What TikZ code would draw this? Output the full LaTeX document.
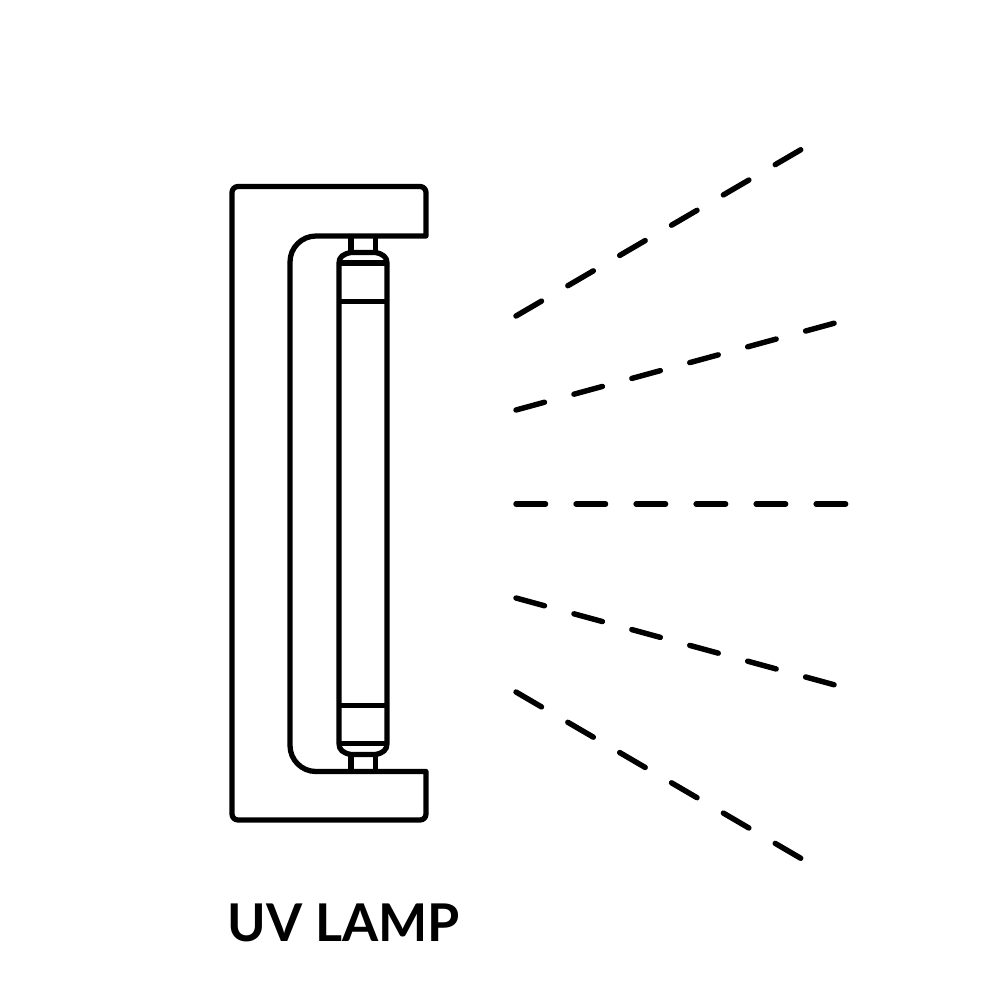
\documentclass[tikz,border=0pt]{standalone}
\usepackage{fontspec}
\setmainfont{Lato}
\usetikzlibrary{positioning}
\tikzset{
    lampline/.style={
        draw=black,
        line width=1.5pt,
        line join=round
    },
    ray/.style={
        draw=black,
        line width=1.55pt,
        line cap=round,
        dash pattern=on 0.295cm off 0.305cm
    },
    caption/.style={
        font=\fontsize{14.8pt}{18pt}\selectfont\bfseries,
        text=black,
        inner sep=0pt
    }
}
\begin{document}
\begin{tikzpicture}[x=0.01cm,y=-0.01cm]

\useasboundingbox (0,0) rectangle (1000,1000);

% housing
\draw[lampline] (426,236) -- (316,236) arc[start angle=90, end angle=180, x radius=26, y radius=-26]
    -- (290,745.5) arc[start angle=180, end angle=270, x radius=26, y radius=-26]
    -- (426,771.5) -- (426,814) arc[start angle=0, end angle=-90, x radius=6, y radius=-6]
    -- (238,820) arc[start angle=270, end angle=180, x radius=6, y radius=-6]
    -- (232,192.5) arc[start angle=180, end angle=90, x radius=6, y radius=-6]
    -- (420,186.5) arc[start angle=90, end angle=0, x radius=6, y radius=-6]
    -- cycle;

% tube
\draw[lampline] (339,263) .. controls (339,257) and (343,254) .. (351,252.5) -- (375.5,252.5)
    .. controls (383,254) and (387,257) .. (387,263)
    -- (387,743.5) .. controls (387,750) and (383,753) .. (375.5,754.5) -- (351,754.5)
    .. controls (343,753) and (339,750) .. (339,743.5) -- cycle;
\draw[lampline] (339,263) -- (387,263);
\draw[lampline] (339,301.5) -- (387,301.5);
\draw[lampline] (339,705.5) -- (387,705.5);
\draw[lampline] (339,743.5) -- (387,743.5);

% pins
\draw[lampline] (351,236) -- (351,252.5);
\draw[lampline] (375.5,236) -- (375.5,252.5);
\draw[lampline] (351,754.5) -- (351,771.5);
\draw[lampline] (375.5,754.5) -- (375.5,771.5);

% light
\foreach \ya/\xb/\yb in {316/802/149, 410/835/323, 504/847/504, 598/835/685, 692/802/859}
    \draw[ray] (516,\ya) -- (\xb,\yb);

\node[caption, anchor=base west] (label) at (227,941.5) {UV LAMP};

\end{tikzpicture}
\end{document}
